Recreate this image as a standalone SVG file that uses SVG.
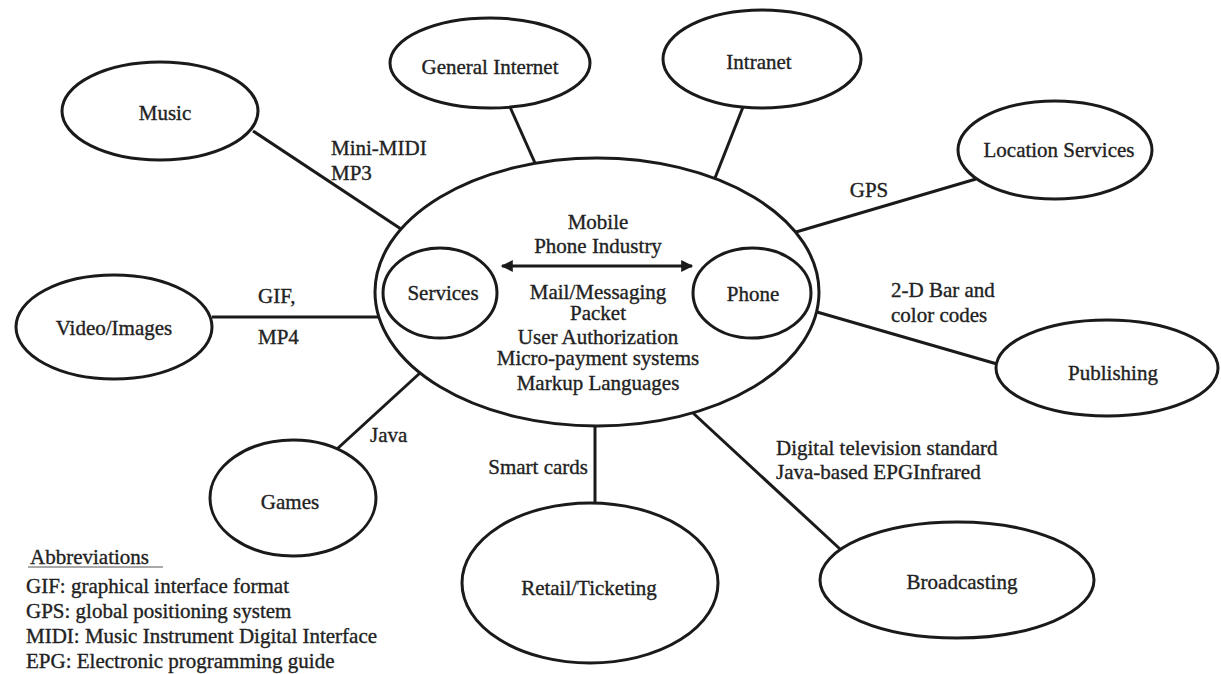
<svg xmlns="http://www.w3.org/2000/svg" width="1221" height="674" viewBox="0 0 1221 674">
  <style>
    .node { fill: #fff; stroke: #1a1a1a; stroke-width: 3; }
    .hub { fill: none; stroke: #1a1a1a; stroke-width: 3; }
    .link { stroke: #1a1a1a; stroke-width: 3; fill: none; }
    text { font-family: "Liberation Serif", "Times New Roman", serif; font-size: 21px; fill: #222; stroke: #222; stroke-width: 0.35; }
    .c { text-anchor: middle; }
    .r { text-anchor: end; }
  </style>
  <defs>
    <marker id="arrow" viewBox="0 0 10 10" refX="9" refY="5" markerWidth="5" markerHeight="4" orient="auto-start-reverse">
      <path d="M0,0 L10,5 L0,10 z" fill="#1a1a1a"/>
    </marker>
  </defs>
  <rect width="1221" height="674" fill="#fff"/>

  <!-- connectors between the hub and the surrounding topics -->
  <g id="connectors">
    <line class="link" x1="253" y1="131" x2="401" y2="229"/>
    <line class="link" x1="510" y1="107" x2="535" y2="163"/>
    <line class="link" x1="743" y1="107" x2="715" y2="178"/>
    <line class="link" x1="976" y1="179" x2="796" y2="232"/>
    <line class="link" x1="817" y1="312" x2="997" y2="364"/>
    <line class="link" x1="693" y1="413" x2="840" y2="549"/>
    <line class="link" x1="595" y1="426" x2="595" y2="503"/>
    <line class="link" x1="420" y1="373" x2="337" y2="449"/>
    <line class="link" x1="212" y1="317" x2="379" y2="317"/>
    <line class="link" x1="502" y1="266" x2="692" y2="266" marker-start="url(#arrow)" marker-end="url(#arrow)" stroke-width="2.5"/>
  </g>

  <!-- connector labels -->
  <g id="connector-labels">
    <text x="331" y="155">Mini-MIDI</text>
    <text x="331" y="180">MP3</text>
    <text class="c" x="869" y="197">GPS</text>
    <text x="891" y="297">2-D Bar and</text>
    <text x="891" y="322">color codes</text>
    <text x="776" y="455">Digital television standard</text>
    <text x="776" y="479">Java-based EPGInfrared</text>
    <text class="r" x="588" y="474">Smart cards</text>
    <text x="370" y="442">Java</text>
    <text x="258" y="303">GIF,</text>
    <text x="258" y="344">MP4</text>
  </g>

  <!-- central hub -->
  <g id="hub">
    <ellipse class="hub" cx="597" cy="292" rx="222" ry="134"/>
    <text class="c" x="598" y="229">Mobile</text>
    <text class="c" x="598" y="253">Phone Industry</text>
    <text class="c" x="598" y="299">Mail/Messaging</text>
    <text class="c" x="598" y="320">Packet</text>
    <text class="c" x="598" y="344">User Authorization</text>
    <text class="c" x="598" y="365">Micro-payment systems</text>
    <text class="c" x="598" y="390">Markup Languages</text>
  </g>
  <g id="services">
    <ellipse class="node" cx="440" cy="293" rx="57" ry="45"/>
    <text class="c" x="443" y="300">Services</text>
  </g>
  <g id="phone">
    <ellipse class="node" cx="752" cy="293" rx="59" ry="45"/>
    <text class="c" x="753" y="301">Phone</text>
  </g>

  <!-- surrounding topics -->
  <g id="music">
    <ellipse class="node" cx="160" cy="111" rx="98" ry="49"/>
    <text class="c" x="165" y="120">Music</text>
  </g>
  <g id="general-internet">
    <ellipse class="node" cx="490" cy="63" rx="100" ry="45"/>
    <text class="c" x="490" y="74">General Internet</text>
  </g>
  <g id="intranet">
    <ellipse class="node" cx="762" cy="59" rx="99" ry="49"/>
    <text class="c" x="759" y="69">Intranet</text>
  </g>
  <g id="location-services">
    <ellipse class="node" cx="1055" cy="150" rx="97" ry="49"/>
    <text class="c" x="1059" y="157">Location Services</text>
  </g>
  <g id="video-images">
    <ellipse class="node" cx="114" cy="327" rx="98" ry="52"/>
    <text class="c" x="114" y="335">Video/Images</text>
  </g>
  <g id="publishing">
    <ellipse class="node" cx="1107" cy="368" rx="111" ry="48"/>
    <text class="c" x="1113" y="380">Publishing</text>
  </g>
  <g id="games">
    <ellipse class="node" cx="293" cy="498" rx="83" ry="58"/>
    <text class="c" x="290" y="509">Games</text>
  </g>
  <g id="retail-ticketing">
    <ellipse class="node" cx="590" cy="583" rx="128" ry="80"/>
    <text class="c" x="589" y="595">Retail/Ticketing</text>
  </g>
  <g id="broadcasting">
    <ellipse class="node" cx="957" cy="580" rx="137" ry="58"/>
    <text class="c" x="962" y="589">Broadcasting</text>
  </g>

  <!-- abbreviation key -->
  <g id="abbreviations">
    <text x="30" y="564">Abbreviations</text>
    <line x1="28" y1="567" x2="163" y2="567" stroke="#555" stroke-width="1"/>
    <text x="26" y="593">GIF: graphical interface format</text>
    <text x="26" y="618">GPS: global positioning system</text>
    <text x="26" y="643">MIDI: Music Instrument Digital Interface</text>
    <text x="26" y="668">EPG: Electronic programming guide</text>
  </g>
</svg>
